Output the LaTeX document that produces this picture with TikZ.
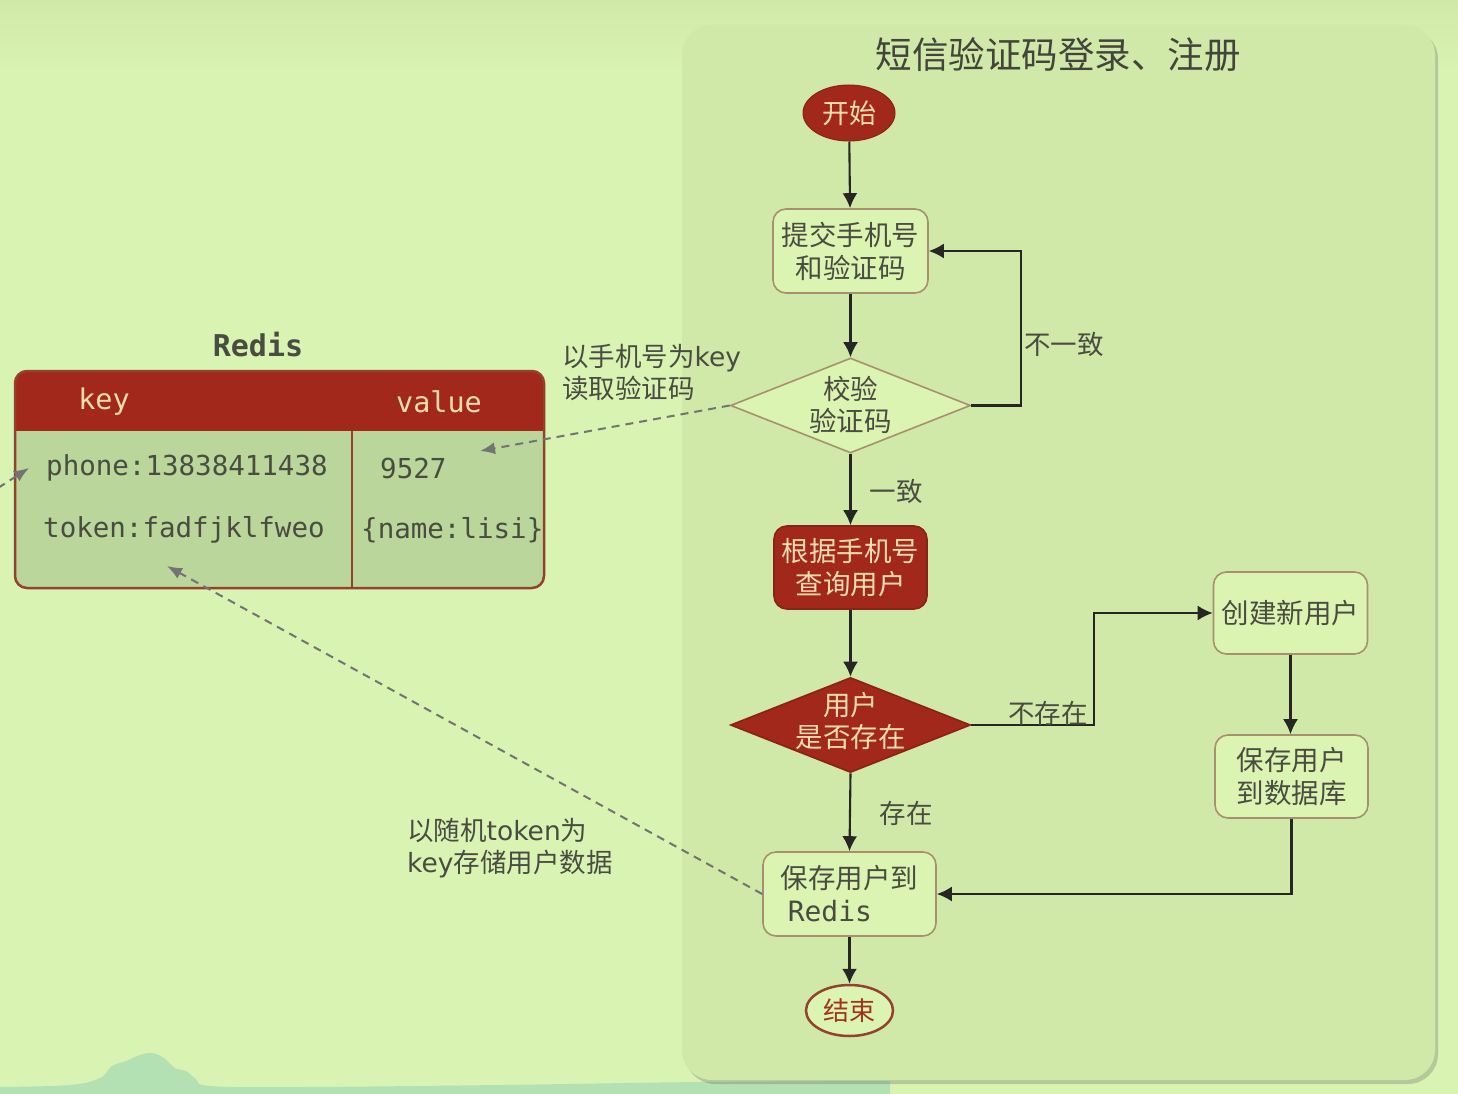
\documentclass[tikz,border=0pt]{standalone}
\usepackage{fontspec}
\setmainfont{Noto Sans CJK SC}
\newfontfamily\mono{DejaVu Sans Mono}
\newfontfamily\lat{DejaVu Sans}
\usetikzlibrary{shapes.geometric,arrows.meta,shadows}
\definecolor{bg}{HTML}{D9F3B3}
\definecolor{bgtop}{HTML}{D0E8A8}
\definecolor{panel}{HTML}{D1E9A8}
\definecolor{boxfill}{HTML}{DCF4B2}
\definecolor{boxline}{HTML}{A8906E}
\definecolor{dred}{HTML}{A1281B}
\definecolor{cream}{HTML}{F6DDB0}
\definecolor{ink}{HTML}{4A4C42}
\definecolor{tbody}{HTML}{BAD69B}
\definecolor{tline}{HTML}{96402E}
\definecolor{hill}{HTML}{B4E1B4}
\definecolor{endred}{HTML}{A0341F}
\begin{document}
\begin{tikzpicture}[x=1pt,y=-1pt,
  flowbox/.style={draw=boxline, line width=1.6pt, fill=boxfill, rounded corners=13pt,
    minimum width=155pt, minimum height=84pt, align=center,
    font=\fontsize{27.5}{33}\selectfont, text=ink, inner sep=0pt},
  redbox/.style={flowbox, fill=dred, draw=dred!85!black, text=cream},
  decision/.style={diamond, draw=boxline, line width=1.6pt, fill=boxfill,
    minimum width=240pt, minimum height=95pt, inner sep=0pt},
  dtext/.style={align=center, font=\fontsize{27.5}{32}\selectfont, text=ink, inner sep=0pt},
  arr/.style={-{Latex[length=15pt,width=15pt]}, line width=2.1pt, draw=black!85},
  dasharr/.style={-{Latex[length=15pt,width=12pt]}, line width=2pt, draw=black!55,
    dash pattern=on 8pt off 6pt},
  lbl/.style={font=\fontsize{26.5}{32}\selectfont, text=ink, inner sep=0pt},
  tbltext/.style={font=\mono\fontsize{27.5}{32}\selectfont, text=ink, inner sep=0pt},
]
\useasboundingbox (0,0) rectangle (1458,1094);
\fill[bg] (0,0) rectangle (1458,1094);
\shade[top color=bgtop, bottom color=bg] (0,0) rectangle (1458,70);
% hill
\fill[hill] plot[smooth, tension=0.6] coordinates {(0,1087) (70,1085) (100,1078) (112,1066) (126,1061) (140,1055) (152,1053) (164,1058) (175,1068) (186,1071) (196,1079) (210,1086) (300,1087) (500,1085) (700,1082) (890,1081)} -- (890,1094) -- (0,1094) -- cycle;
% panel
\node[fill=panel, rounded corners=30pt, minimum width=753pt, minimum height=1055pt, inner sep=0pt,
  drop shadow={shadow xshift=3pt, shadow yshift=-4pt, opacity=0.3, fill=black!60}] (panel) at (1058.5,552.5) {};
\node[font=\fontsize{36.5}{40}\selectfont, text=ink!90!black, inner sep=0pt] (title) at (1058,55) {短信验证码登录、注册};

% flow nodes
\node[ellipse, fill=dred, draw=dred!85!black, line width=1pt, minimum width=92pt, minimum height=56pt, inner sep=0pt,
  text=cream, font=\fontsize{27}{30}\selectfont] (start) at (849,113) {开始};
\node[flowbox] (submit) at (850.5,251) {提交手机号\\和验证码};
\node[decision] (check) at (850.5,405.5) {};
\node[dtext] (checkt) at (850.5,405) {校验\\验证码};
\node[redbox, minimum width=153pt, minimum height=83pt] (query) at (850.5,567.5) {根据手机号\\查询用户};
\node[decision, fill=dred, draw=dred!85!black] (exists) at (850.5,725) {};
\node[dtext, text=cream] (existst) at (850.5,721) {用户\\是否存在};
\node[flowbox, minimum width=154pt, minimum height=82pt] (create) at (1290.5,613) {创建新用户};
\node[flowbox, minimum width=153pt, minimum height=83pt] (savedb) at (1291.5,776.5) {保存用户\\到数据库};
\node[flowbox, minimum width=173pt, minimum height=84pt, align=left] (saveredis) at (849.5,894)
  {保存用户到\\\hspace*{7pt}{\mono\fontsize{28}{33}\selectfont Redis}};
\node[ellipse, fill=boxfill, draw=tline, line width=2.5pt, minimum width=87pt, minimum height=51pt, inner sep=0pt,
  text=endred, font=\fontsize{26}{30}\selectfont] (end) at (849.5,1010.5) {结束};

% flow arrows
\draw[arr] (start) -- (submit);
\draw[arr] (submit.south) -- (check.north);
\draw[arr] (check.east) -- ++(50,0) |- (submit.east);
\node[lbl] (lneq) at (1064,344) {不一致};
\draw[arr] (check.south) -- (query.north);
\node[lbl] (leq) at (896,491) {一致};
\draw[arr] (query.south) -- (exists.north);
\draw[arr] (exists.east) -- ++(123,0) |- (create.west);
\node[lbl] (lno) at (1048,713) {不存在};
\draw[arr] (create.south) -- (create.south |- savedb.north);
\draw[arr] (savedb.south) |- (saveredis.east);
\draw[arr] (exists.south) -- (saveredis.north);
\node[lbl] (lyes) at (906,813) {存在};
\draw[arr] (saveredis.south) -- (end.north);

% Redis table
\node[font=\mono\bfseries\fontsize{30}{34}\selectfont, text=ink, inner sep=0pt] (redistitle) at (258,345) {Redis};
\begin{scope}
  \clip[rounded corners=12pt] (15,371) rectangle (544,588);
  \fill[tbody] (15,371) rectangle (544,588);
  \fill[dred] (15,371) rectangle (544,431);
\end{scope}
\node[draw=tline, line width=2.5pt, rounded corners=12pt, minimum width=529pt, minimum height=217pt, inner sep=0pt] (table) at (279.5,479.5) {};
\draw[tline, line width=1.5pt] (352,431) -- (352,588);
\node[tbltext, text=cream, font=\mono\fontsize{28.5}{32}\selectfont] (hkey) at (104,402) {key};
\node[tbltext, text=cream, font=\mono\fontsize{28.5}{32}\selectfont] (hval) at (439,402) {value};
\node[tbltext, anchor=west] (r1k) at (46,468) {phone:13838411438};
\node[tbltext, anchor=west] (r1v) at (380,468) {9527};
\node[tbltext, anchor=west] (r2k) at (43,530) {token:fadfjklfweo};
\node[tbltext, anchor=west] (r2v) at (361,530) {\{name:lisi\}};

% dashed connectors
\coordinate (valtip) at (480,451);
\draw[dasharr] (check.west) -- (valtip);
\node[lbl, align=left, anchor=west] (lread) at (562,372) {以手机号为{\lat\fontsize{26.5}{32}\selectfont key}\\读取验证码};
\coordinate (tokentip) at (167,566);
\draw[dasharr] (saveredis.west) -- (tokentip);
\node[lbl, align=left, anchor=west] (lstore) at (407,848) {以随机{\lat\fontsize{26.5}{32}\selectfont token}为\\{\lat\fontsize{26.5}{32}\selectfont key}存储用户数据};
\coordinate (offleft) at (-2,488);
\coordinate (phonetip) at (29,468);
\draw[dasharr] (offleft) -- (phonetip);
\end{tikzpicture}
\end{document}
